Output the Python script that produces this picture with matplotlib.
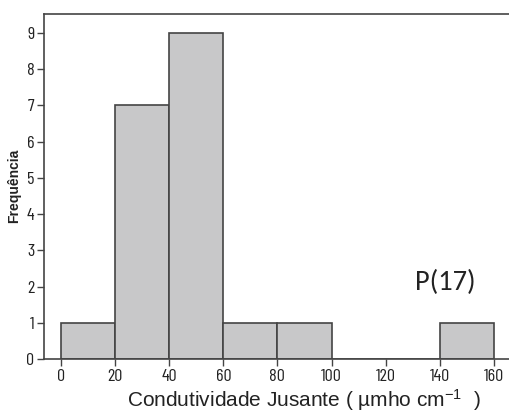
import matplotlib.pyplot as plt
import numpy as np

plt.rcParams['mathtext.fontset'] = 'custom'
plt.rcParams['mathtext.rm'] = 'Liberation Sans'
plt.rcParams['mathtext.it'] = 'Liberation Sans'

# Class limits and counts of the histogram
bin_edges = [0, 20, 40, 60, 80, 100, 120, 140, 160]
counts = [1, 7, 9, 1, 1, 0, 0, 1]
x_ticks = [0, 20, 40, 60, 80, 100, 120, 140, 160]
y_ticks = [0, 1, 2, 3, 4, 5, 6, 7, 8, 9]

fig = plt.figure(figsize=(5.10, 4.12), dpi=100)
ax = fig.add_axes([0.0863, 0.1286, 0.9137, 0.8374])

edge = '#444444'
left = np.array(bin_edges[:-1])
widths = np.diff(bin_edges)
ax.bar(left, counts, width=widths, align='edge', color='#c8c8c9',
       edgecolor=edge, linewidth=1.2)

ax.set_xlim(-6.3, 166)
ax.set_ylim(0, 9.52)
ax.set_xticks(x_ticks)
ax.set_yticks(y_ticks)

ax.spines['right'].set_visible(False)
for s in ['left', 'bottom', 'top']:
    ax.spines[s].set_color(edge)
    ax.spines[s].set_linewidth(1.2)
ax.tick_params(direction='out', length=5, width=1, color=edge,
               labelsize=13, labelcolor='#222222', pad=2)
for lbl in ax.get_xticklabels() + ax.get_yticklabels():
    lbl.set_family(['Barlow Condensed', 'DejaVu Sans'])

# axis titles
fig.text(0.596, 0.012, 'Condutividade Jusante ( µmho cm$^{-1}$  )', fontsize=15,
         family='Liberation Sans', color='#222222', ha='center', va='baseline')
fig.text(0.027, 0.55, 'Frequência', fontsize=10, fontweight='bold',
         family='Liberation Sans', color='#222222', ha='center', va='center',
         rotation=90)

ax.text(141.9, 2.1, 'P(17)', fontsize=20.5, family=['Carlito', 'Lato'],
        color='#222222', ha='center', va='center')

fig.savefig('out.png', dpi=100)
